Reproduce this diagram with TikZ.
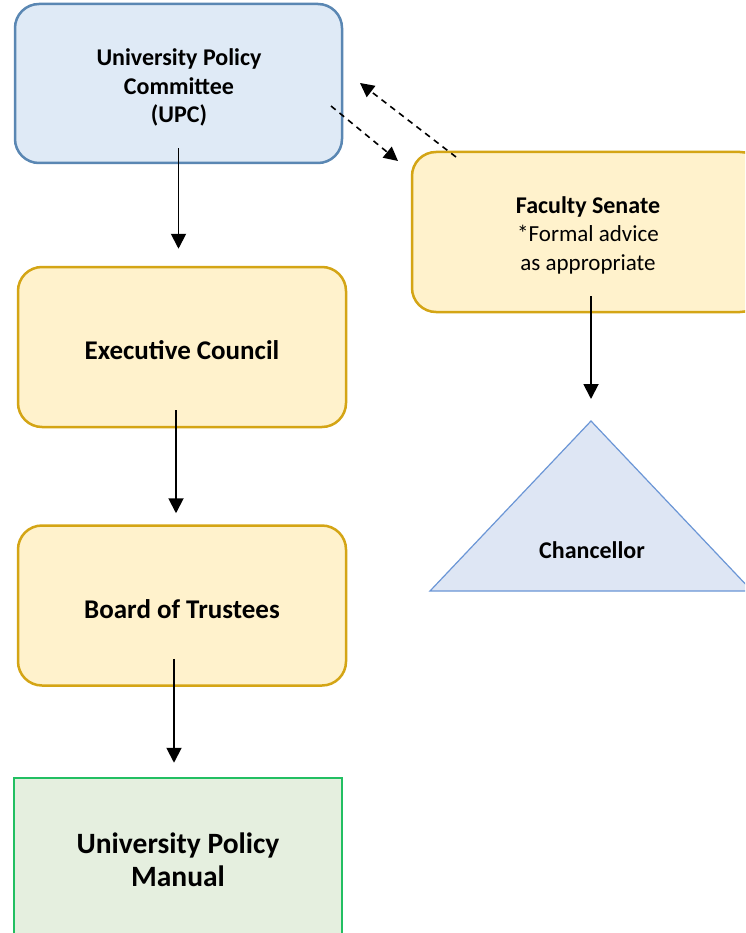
\documentclass[tikz,border=0pt]{standalone}
\usepackage{fontspec}
\setmainfont{Carlito}
\usetikzlibrary{arrows.meta}
\definecolor{bluefill}{HTML}{DFEAF6}
\definecolor{blueline}{HTML}{5A87B3}
\definecolor{yelfill}{HTML}{FFF2CC}
\definecolor{yelline}{HTML}{D4A515}
\definecolor{grnfill}{HTML}{E5EFDF}
\definecolor{grnline}{HTML}{22BF62}
\definecolor{trifill}{HTML}{DEE6F4}
\definecolor{triline}{HTML}{6B96D6}
\begin{document}
\begin{tikzpicture}[x=1pt,y=-1pt,
  box/.style={rounded corners=24pt, line width=2.5pt, minimum width=328pt, minimum height=160pt, inner sep=0pt},
  bluebox/.style={box, draw=blueline, fill=bluefill},
  yelbox/.style={box, draw=yelline, fill=yelfill},
  grnbox/.style={box, rounded corners=0pt, draw=grnline, fill=grnfill},
  lbl/.style={align=center, inner sep=0pt},
  txt/.style={lbl, font=\fontsize{24}{28.5}\selectfont\bfseries},
  midtxt/.style={lbl, font=\fontsize{27}{32}\selectfont\bfseries},
  bigtxt/.style={lbl, font=\fontsize{29.5}{33}\selectfont\bfseries},
  arr/.style={line width=1.9pt, -{Triangle[length=15pt,width=15pt]}},
  darr/.style={line width=1.6pt, dash pattern=on 6pt off 5pt, -{Triangle[length=14pt,width=14pt]}},
]
\useasboundingbox (0,0) rectangle (745,933);
\clip (0,0) rectangle (745,933);
\fill[white] (0,0) rectangle (745,933);

\node[bluebox, minimum width=327pt, minimum height=159pt] (upc) at (178.5,83.5) {};
\node[txt] (upct) at (179,87.5) {University Policy\\Committee\\(UPC)};
\node[yelbox] (exec) at (182,347) {};
\node[midtxt] (exect) at (182,350) {Executive Council};
\node[yelbox] (board) at (182,605.5) {};
\node[midtxt] (boardt) at (182,609) {Board of Trustees};
\node[grnbox] (manual) at (178,858) {};
\node[bigtxt] (manualt) at (178,860) {University Policy\\Manual};
\node[yelbox, minimum width=352pt] (senate) at (588,232) {};
\node[lbl, font=\fontsize{23}{28.5}\selectfont] (senatet) at (588,235) {\textbf{\fontsize{24}{28.5}\selectfont Faculty Senate}\\*Formal advice\\as appropriate};

\draw[triline, fill=trifill, line width=1.2pt] (591,421) -- (430,591) -- (752,591) -- cycle;
\node[txt] (chan) at (592,550) {Chancellor};
\coordinate (apex) at (591,421);

\draw[arr] ([yshift=16pt]upc.south) -- ([yshift=17pt]upc.south |- exec.north);
\draw[arr] ([xshift=-6pt,yshift=18pt]exec.south) -- ([xshift=-6pt,yshift=11pt]exec.south |- board.north);
\draw[arr] ([xshift=-8pt,yshift=28pt]board.south) -- ([xshift=-8pt,yshift=14pt]board.south |- manual.north);
\draw[arr] ([xshift=3pt,yshift=17pt]senate.south) -- ([yshift=22pt]apex);

\coordinate (d1s) at (331,106);
\coordinate (d1e) at (398,161);
\coordinate (d2s) at (456,157);
\coordinate (d2e) at (360,83);
\draw[darr] (d1s) -- (d1e);
\draw[darr] (d2s) -- (d2e);
\end{tikzpicture}
\end{document}
